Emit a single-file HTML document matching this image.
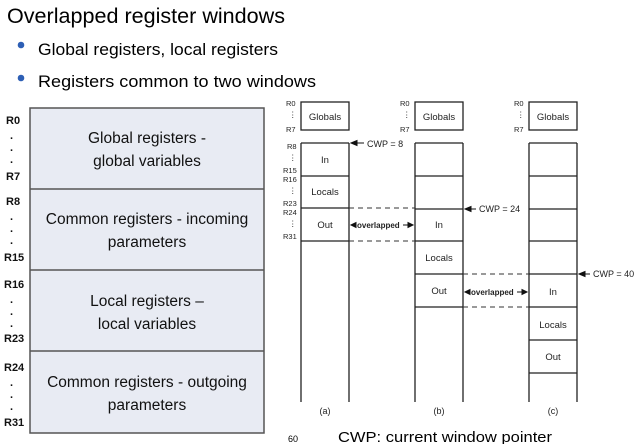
<!DOCTYPE html>
<html><head><meta charset="utf-8"><style>
html,body{margin:0;padding:0;background:#fff;width:638px;height:444px;overflow:hidden}
svg{display:block}
text{font-family:"Liberation Sans",sans-serif}
</style></head><body>
<svg width="638" height="444" viewBox="0 0 638 444" xmlns="http://www.w3.org/2000/svg">
<text x="7" y="23" font-size="21" textLength="278" lengthAdjust="spacingAndGlyphs">Overlapped register windows</text>
<circle cx="21" cy="45" r="3.3" fill="#2d5fb5"/>
<circle cx="21" cy="78" r="3.3" fill="#2d5fb5"/>
<text x="38" y="55" font-size="17" textLength="240" lengthAdjust="spacingAndGlyphs">Global registers, local registers</text>
<text x="38" y="87" font-size="17" textLength="278" lengthAdjust="spacingAndGlyphs">Registers common to two windows</text>

<rect x="30" y="108" width="234" height="325" fill="#e8ebf3" stroke="#555" stroke-width="1.5"/>
<g stroke="#555" stroke-width="1.5"><line x1="30" y1="189" x2="264" y2="189"/><line x1="30" y1="270" x2="264" y2="270"/><line x1="30" y1="351" x2="264" y2="351"/></g>
<g font-size="15.5" text-anchor="middle" fill="#111">
<text x="147" y="143">Global registers -</text><text x="147" y="166">global variables</text>
<text x="147" y="224">Common registers - incoming</text><text x="147" y="247">parameters</text>
<text x="147" y="306">Local registers –</text><text x="147" y="329">local variables</text>
<text x="147" y="387">Common registers - outgoing</text><text x="147" y="410">parameters</text>
</g>
<g font-size="11" font-weight="bold" fill="#111">
<text x="6" y="124">R0</text><text x="10" y="139">.</text><text x="10" y="151">.</text><text x="10" y="163">.</text><text x="6" y="180">R7</text>
<text x="6" y="205">R8</text><text x="10" y="220">.</text><text x="10" y="232">.</text><text x="10" y="244">.</text><text x="4" y="261">R15</text>
<text x="4" y="288">R16</text><text x="10" y="303">.</text><text x="10" y="315">.</text><text x="10" y="327">.</text><text x="4" y="342">R23</text>
<text x="4" y="371">R24</text><text x="10" y="386">.</text><text x="10" y="398">.</text><text x="10" y="410">.</text><text x="4" y="426">R31</text>
</g>

<g stroke="#222" stroke-width="1.3" fill="none">
<rect x="301" y="102" width="48" height="28"/><rect x="415" y="102" width="48" height="28"/><rect x="529" y="102" width="48" height="28"/>
<line x1="301" y1="143" x2="301" y2="402"/><line x1="349" y1="143" x2="349" y2="402"/>
<line x1="415" y1="143" x2="415" y2="402"/><line x1="463" y1="143" x2="463" y2="402"/>
<line x1="529" y1="143" x2="529" y2="402"/><line x1="577" y1="143" x2="577" y2="402"/>
<path d="M301 143H349M301 176H349M301 208H349M301 241H349"/>
<path d="M415 143H463M415 176H463M415 209H463M415 241H463M415 274H463M415 307H463"/>
<path d="M529 143H577M529 176H577M529 209H577M529 241H577M529 274H577M529 307H577M529 340H577M529 373H577"/>
</g>
<g stroke="#333" stroke-width="1" stroke-dasharray="5,4">
<line x1="349" y1="208" x2="415" y2="208"/><line x1="349" y1="241" x2="415" y2="241"/>
<line x1="463" y1="274" x2="529" y2="274"/><line x1="463" y1="307" x2="529" y2="307"/>
</g>
<g stroke="#111" stroke-width="1" fill="#111">
<line x1="351" y1="143" x2="364" y2="143"/><path d="M351 143l6-2.5v5z"/>
<line x1="465" y1="209" x2="476" y2="209"/><path d="M465 209l6-2.5v5z"/>
<line x1="579" y1="274" x2="590" y2="274"/><path d="M579 274l6-2.5v5z"/>
<line x1="351" y1="225" x2="356" y2="225"/><path d="M351 225l5-2.5v5z"/>
<line x1="403" y1="225" x2="413" y2="225"/><path d="M413 225l-5-2.5v5z"/>
<line x1="465" y1="292" x2="470" y2="292"/><path d="M465 292l5-2.5v5z"/>
<line x1="517" y1="292" x2="527" y2="292"/><path d="M527 292l-5-2.5v5z"/>
</g>
<g font-size="9" fill="#222">
<text x="367" y="147">CWP = 8</text><text x="479" y="212">CWP = 24</text><text x="593" y="277">CWP = 40</text>
<text x="357" y="228" font-size="8" font-weight="bold">overlapped</text>
<text x="471" y="295" font-size="8" font-weight="bold">overlapped</text>
</g>
<g font-size="9.5" text-anchor="middle" fill="#222">
<text x="325" y="120">Globals</text><text x="439" y="120">Globals</text><text x="553" y="120">Globals</text>
<text x="325" y="163">In</text><text x="325" y="195">Locals</text><text x="325" y="228">Out</text>
<text x="439" y="228">In</text><text x="439" y="261">Locals</text><text x="439" y="294">Out</text>
<text x="553" y="295">In</text><text x="553" y="328">Locals</text><text x="553" y="360">Out</text>
</g>
<g font-size="7.5" fill="#222">
<text x="286" y="106">R0</text><text x="289" y="117">⋮</text><text x="286" y="132">R7</text>
<text x="400" y="106">R0</text><text x="403" y="117">⋮</text><text x="400" y="132">R7</text>
<text x="514" y="106">R0</text><text x="517" y="117">⋮</text><text x="514" y="132">R7</text>
<text x="287" y="149">R8</text><text x="289" y="160">⋮</text><text x="283" y="173">R15</text>
<text x="283" y="182">R16</text><text x="289" y="193">⋮</text><text x="283" y="206">R23</text>
<text x="283" y="215">R24</text><text x="289" y="226">⋮</text><text x="283" y="239">R31</text>
</g>
<g font-size="9" fill="#222" text-anchor="middle">
<text x="325" y="414" font-family="Liberation Serif">(a)</text><text x="439" y="414" font-family="Liberation Serif">(b)</text><text x="553" y="414" font-family="Liberation Serif">(c)</text>
</g>
<text x="288" y="442" font-size="9">60</text>
<text x="338" y="442" font-size="15" textLength="214" lengthAdjust="spacingAndGlyphs">CWP: current window pointer</text>
</svg>
</body></html>
